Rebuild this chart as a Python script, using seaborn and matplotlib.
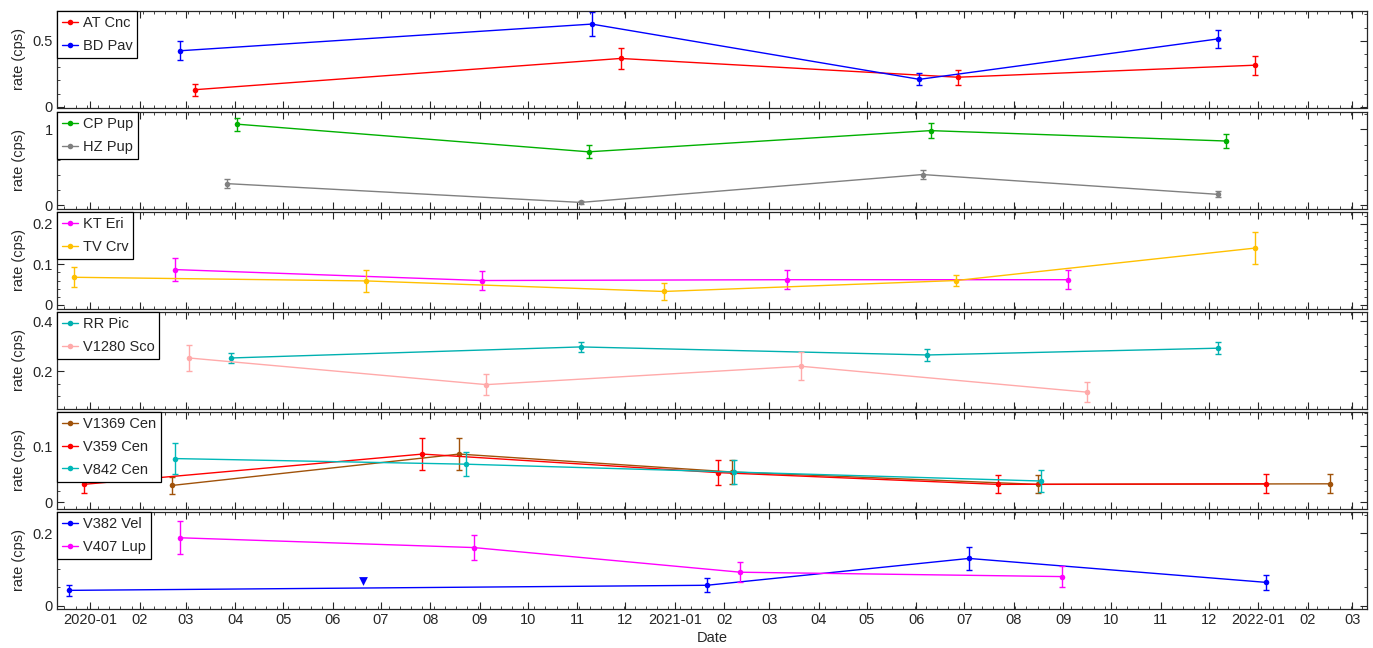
import numpy as np
import pandas as pd
import matplotlib
matplotlib.use("Agg")
import matplotlib.pyplot as plt
import matplotlib.dates as mdates
from matplotlib.ticker import FuncFormatter, MultipleLocator
import seaborn as sns

# ---------------- data ----------------
at_cnc_date = ["2020-03-07", "2020-11-28", "2021-06-27", "2021-12-30"]
at_cnc_rate = [0.130, 0.366, 0.224, 0.315]
at_cnc_err = [0.046, 0.078, 0.057, 0.073]

bd_pav_date = ["2020-02-26", "2020-11-10", "2021-06-03", "2021-12-07"]
bd_pav_rate = [0.424, 0.626, 0.208, 0.514]
bd_pav_err = [0.073, 0.089, 0.046, 0.066]

cp_pup_date = ["2020-04-02", "2020-11-08", "2021-06-10", "2021-12-12"]
cp_pup_rate = [1.07, 0.706, 0.985, 0.848]
cp_pup_err = [0.084, 0.084, 0.097, 0.086]

hz_pup_date = ["2020-03-27", "2020-11-03", "2021-06-05", "2021-12-07"]
hz_pup_rate = [0.287, 0.040, 0.407, 0.146]
hz_pup_err = [0.060, 0.020, 0.060, 0.040]

kt_eri_date = ["2020-02-23", "2020-09-02", "2021-03-12", "2021-09-04"]
kt_eri_rate = [0.087, 0.060, 0.062, 0.062]
kt_eri_err = [0.028, 0.023, 0.024, 0.023]

tv_crv_date = ["2019-12-22", "2020-06-22", "2020-12-25", "2021-06-26", "2021-12-30"]
tv_crv_rate = [0.068, 0.059, 0.033, 0.060, 0.140]
tv_crv_err = [0.025, 0.027, 0.020, 0.013, 0.040]

rr_pic_date = ["2020-03-29", "2020-11-03", "2021-06-08", "2021-12-07"]
rr_pic_rate = [0.253, 0.297, 0.265, 0.292]
rr_pic_err = [0.020, 0.021, 0.023, 0.024]

v1280_sco_date = ["2020-03-03", "2020-09-05", "2021-03-21", "2021-09-16"]
v1280_sco_rate = [0.253, 0.147, 0.220, 0.117]
v1280_sco_err = [0.053, 0.042, 0.056, 0.039]

v1369_cen_date = ["2020-02-21", "2020-08-19", "2021-02-06", "2021-08-16", "2022-02-15"]
v1369_cen_rate = [0.030, 0.086, 0.054, 0.032, 0.033]
v1369_cen_err = [0.016, 0.028, 0.022, 0.016, 0.017]

v359_cen_date = ["2019-12-28", "2020-07-27", "2021-01-28", "2021-07-22", "2022-01-06"]
v359_cen_rate = [0.032, 0.086, 0.053, 0.032, 0.033]
v359_cen_err = [0.016, 0.028, 0.022, 0.016, 0.017]

v842_cen_date = ["2020-02-23", "2020-08-23", "2021-02-07", "2021-08-18"]
v842_cen_rate = [0.078, 0.068, 0.054, 0.038]
v842_cen_err = [0.028, 0.021, 0.022, 0.019]

v382_vel_date = ["2019-12-19", "2021-01-21", "2021-07-04", "2022-01-06"]
v382_vel_rate = [0.042, 0.056, 0.130, 0.064]
v382_vel_err = [0.016, 0.019, 0.031, 0.021]
v382_vel_ul_date = ["2020-06-20"]
v382_vel_ul_rate = [0.069]

v407_lup_date = ["2020-02-26", "2020-08-28", "2021-02-11", "2021-08-31"]
v407_lup_rate = [0.187, 0.160, 0.092, 0.080]
v407_lup_err = [0.046, 0.035, 0.028, 0.029]

# ---------------- panel layout ----------------
panels = [
    [("AT Cnc", at_cnc_date, at_cnc_rate, at_cnc_err, "#ff0000"),
     ("BD Pav", bd_pav_date, bd_pav_rate, bd_pav_err, "#0000ff")],
    [("CP Pup", cp_pup_date, cp_pup_rate, cp_pup_err, "#00b000"),
     ("HZ Pup", hz_pup_date, hz_pup_rate, hz_pup_err, "#808080")],
    [("KT Eri", kt_eri_date, kt_eri_rate, kt_eri_err, "#ff00ff"),
     ("TV Crv", tv_crv_date, tv_crv_rate, tv_crv_err, "#ffc000")],
    [("RR Pic", rr_pic_date, rr_pic_rate, rr_pic_err, "#00b0b0"),
     ("V1280 Sco", v1280_sco_date, v1280_sco_rate, v1280_sco_err, "#ffaaaa")],
    [("V1369 Cen", v1369_cen_date, v1369_cen_rate, v1369_cen_err, "#a0520a"),
     ("V359 Cen", v359_cen_date, v359_cen_rate, v359_cen_err, "#ff0000"),
     ("V842 Cen", v842_cen_date, v842_cen_rate, v842_cen_err, "#00b8b8")],
    [("V382 Vel", v382_vel_date, v382_vel_rate, v382_vel_err, "#0000ff"),
     ("V407 Lup", v407_lup_date, v407_lup_rate, v407_lup_err, "#ff00ff")],
]
ylims = [(-0.005, 0.725), (-0.04, 1.23), (-0.009, 0.229),
         (0.052, 0.436), (-0.011, 0.161), (-0.008, 0.258)]
ymajor = [0.5, 1.0, 0.1, 0.2, 0.1, 0.2]
yminor = [0.1, 0.2, 0.02, 0.05, 0.02, 0.05]

sns.set_style("ticks")
plt.rcParams["font.family"] = ["Liberation Sans", "DejaVu Sans"]
plt.rcParams["font.size"] = 10

fig = plt.figure(figsize=(13.73, 6.48), dpi=100)
W, H = 1373.0, 648.0
left, right = 57 / W, 1367 / W
tops = [11, 112, 212, 312, 412, 512]
ph = 96.5

xmin = pd.Timestamp("2019-12-11 08:00")
xmax = pd.Timestamp("2022-03-10 03:00")


def month_fmt(x, pos=None):
    d = mdates.num2date(x)
    return d.strftime("%Y-%m") if d.month == 1 else d.strftime("%m")


axes = []
for i, series in enumerate(panels):
    ax = fig.add_axes([left, 1 - (tops[i] + ph) / H, right - left, ph / H])
    axes.append(ax)
    for name, dates, rate, err, col in series:
        df = pd.DataFrame({"date": pd.to_datetime(dates), "rate": rate, "err": err})
        ax.errorbar(df["date"], df["rate"], yerr=df["err"], fmt="none",
                    ecolor=col, elinewidth=1.0, capsize=2.5, capthick=1.0)
        sns.lineplot(data=df, x="date", y="rate", ax=ax, color=col, lw=1.0,
                     marker="o", markersize=4, markeredgewidth=0,
                     label=name, sort=False)
    if i == 5:
        ul = pd.DataFrame({"date": pd.to_datetime(v382_vel_ul_date),
                           "rate": v382_vel_ul_rate})
        sns.scatterplot(data=ul, x="date", y="rate", ax=ax, marker="v",
                        color="#0000ff", s=40, linewidth=0, legend=False)

    ax.set_xlim(xmin, xmax)
    ax.set_ylim(*ylims[i])
    ax.yaxis.set_major_locator(MultipleLocator(ymajor[i]))
    ax.yaxis.set_minor_locator(MultipleLocator(yminor[i]))
    ax.yaxis.set_major_formatter(FuncFormatter(lambda v, p: f"{v:g}"))
    ax.xaxis.set_major_locator(mdates.MonthLocator())
    ax.xaxis.set_minor_locator(mdates.WeekdayLocator(byweekday=mdates.MO))
    ax.xaxis.set_major_formatter(FuncFormatter(month_fmt))
    ax.tick_params(which="both", direction="in", top=True, right=True,
                   labelsize=10.5, pad=3, color="#262626")
    ax.tick_params(which="major", length=5, width=0.8)
    ax.tick_params(which="minor", length=2.5, width=0.6)
    for s in ax.spines.values():
        s.set_color("#262626")
        s.set_linewidth(0.9)
    ax.set_ylabel("rate (cps)", fontsize=10.5)
    ax.yaxis.set_label_coords(-0.024, 0.5)
    ax.set_xlabel("")
    if i < 5:
        ax.tick_params(labelbottom=False)
    else:
        ax.set_xlabel("Date", fontsize=10.5, labelpad=3)

    leg = ax.legend(loc="upper left", borderaxespad=0, fancybox=False,
                    edgecolor="black", framealpha=1, fontsize=10.5,
                    handlelength=1.1, handletextpad=0.3, borderpad=0.35,
                    labelspacing=0.6)
    leg.get_frame().set_linewidth(0.9)

fig.savefig("out.png", dpi=100)
